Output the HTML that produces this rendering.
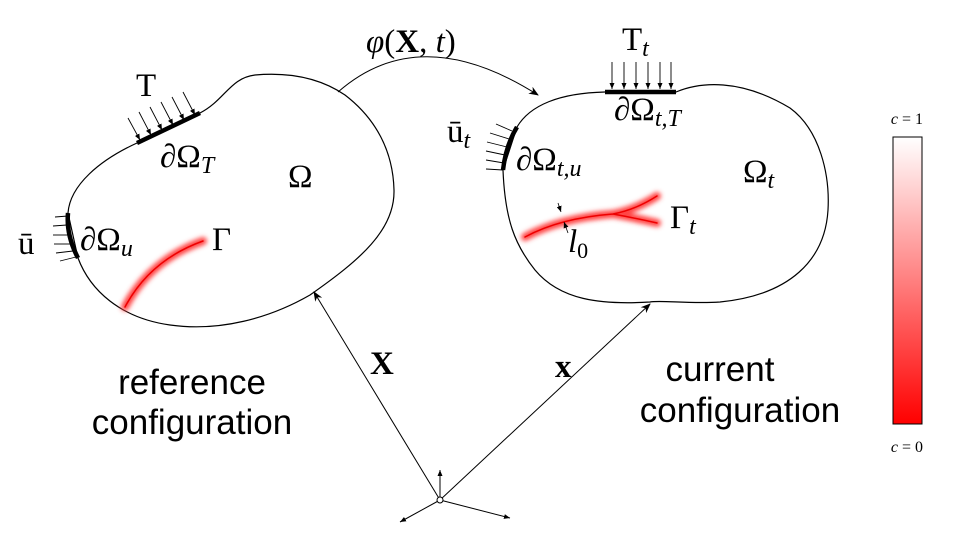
<html><body style="margin:0;background:#fff">
<svg width="980" height="549" viewBox="0 0 980 549" xmlns="http://www.w3.org/2000/svg" style="font-family:'Liberation Serif',serif">
<defs>
<marker id="a" markerWidth="10" markerHeight="8" refX="9" refY="4" orient="auto" markerUnits="userSpaceOnUse"><path d="M0,0 L10,4 L0,8 L3,4z" fill="#000"/></marker>
<marker id="s" markerWidth="6" markerHeight="5" refX="6" refY="2.5" orient="auto" markerUnits="userSpaceOnUse"><path d="M0,0 L6,2.5 L0,5z" fill="#000"/></marker>
<filter id="g" x="-20%" y="-50%" width="140%" height="200%"><feGaussianBlur stdDeviation="2.5"/></filter>
<linearGradient id="cb" x1="0" y1="0" x2="0" y2="1"><stop offset="0" stop-color="#fff"/><stop offset="1" stop-color="#f00"/></linearGradient>
</defs>
<g fill="none" stroke="#000" stroke-width="1.2">
<path d="M137,143 L200,113 C225,100 230,78 255,75 C290,72 320,78 345,95 C375,118 393,150 394,190 C395,230 360,260 310,295 C270,318 220,332 170,325 C120,318 90,290 78,258 L68,213 C70,185 100,160 137,143Z"/>
<path d="M605,92 L676,92 C700,82 740,78 790,108 C820,130 830,175 828,210 C825,260 790,295 720,302 C690,304 660,300 650,302 C600,305 560,300 535,270 C515,245 505,220 503,170 L517,127 C530,105 560,93 605,92Z"/>
</g>
<g stroke="#000" stroke-width="4.5" fill="none"><path d="M137,143 L200,113"/><path d="M78,258 Q66,235 68,213"/><path d="M605,92 L676,92"/><path d="M503,170 Q506,145 517,127"/></g>
<g stroke="#000" stroke-width="0.9" marker-end="url(#s)">
<line x1="128" y1="118" x2="140" y2="140"/><line x1="139" y1="112" x2="151" y2="135"/><line x1="150" y1="107" x2="162" y2="130"/><line x1="161" y1="102" x2="173" y2="125"/><line x1="172" y1="97" x2="184" y2="120"/><line x1="183" y1="92" x2="195" y2="115"/>
<line x1="612" y1="62" x2="612" y2="89"/><line x1="624" y1="62" x2="624" y2="89"/><line x1="636" y1="62" x2="636" y2="89"/><line x1="648" y1="62" x2="648" y2="89"/><line x1="660" y1="62" x2="660" y2="89"/><line x1="671" y1="62" x2="671" y2="89"/>
</g>
<g stroke="#000" stroke-width="0.9">
<line x1="55" y1="217" x2="68" y2="216"/><line x1="53" y1="226" x2="67" y2="225"/><line x1="53" y1="235" x2="68" y2="235"/><line x1="54" y1="244" x2="70" y2="244"/><line x1="56" y1="253" x2="73" y2="251"/><line x1="60" y1="261" x2="76" y2="257"/>
<line x1="496" y1="124" x2="512" y2="131"/><line x1="490" y1="133" x2="509" y2="139"/><line x1="487" y1="142" x2="507" y2="147"/><line x1="486" y1="151" x2="505" y2="155"/><line x1="486" y1="160" x2="504" y2="163"/><line x1="486" y1="169" x2="503" y2="170"/>
</g>
<g fill="none" stroke-linecap="round">
<path d="M125,307 Q150,260 203,241" stroke="#f44" stroke-width="8" filter="url(#g)"/>
<path d="M125,307 Q150,260 203,241" stroke="#e00" stroke-width="1.5"/>
<path d="M525,237 Q560,218 613,214 M613,214 Q635,210 657,196 M613,214 Q635,218 657,223" stroke="#f44" stroke-width="8" filter="url(#g)"/>
<path d="M525,237 Q560,218 613,214 M613,214 Q635,210 657,196 M613,214 Q635,218 657,223" stroke="#e00" stroke-width="1.5"/>
</g>
<g stroke="#000" stroke-width="0.8" fill="none"><line x1="558" y1="203" x2="561" y2="212" marker-end="url(#s)"/><line x1="568" y1="233" x2="564" y2="222" marker-end="url(#s)"/></g>
<g stroke="#000" stroke-width="1" fill="none">
<path d="M338,92 Q420,20 538,95" marker-end="url(#a)"/>
<line x1="440" y1="500" x2="314" y2="292" marker-end="url(#a)"/>
<line x1="440" y1="500" x2="650" y2="304" marker-end="url(#a)"/>
<line x1="440" y1="500" x2="440" y2="470" marker-end="url(#s)"/>
<line x1="440" y1="500" x2="400" y2="522" marker-end="url(#s)"/>
<line x1="440" y1="500" x2="510" y2="518" marker-end="url(#s)"/>
<circle cx="440" cy="500" r="3" fill="#fff"/>
</g>
<g font-size="33" fill="#000">
<text x="136" y="96">T</text><text x="160" y="167">∂Ω<tspan font-size="24" font-style="italic" dy="6">T</tspan></text>
<text x="288" y="187">Ω</text>
<text x="18" y="254">ū</text><text x="80" y="250">∂Ω<tspan font-size="24" font-style="italic" dy="6">u</tspan></text>
<text x="212" y="250">Γ</text>
<text x="366" y="52"><tspan font-style="italic">φ</tspan>(<tspan font-weight="bold">X</tspan>, <tspan font-style="italic">t</tspan>)</text>
<text x="622" y="50">T<tspan font-size="24" font-style="italic" dy="6">t</tspan></text>
<text x="614" y="120">∂Ω<tspan font-size="24" font-style="italic" dy="6">t,T</tspan></text>
<text x="447" y="142">ū<tspan font-size="24" font-style="italic" dy="6">t</tspan></text>
<text x="516" y="170">∂Ω<tspan font-size="24" font-style="italic" dy="6">t,u</tspan></text>
<text x="743" y="182">Ω<tspan font-size="24" font-style="italic" dy="6">t</tspan></text>
<text x="670" y="228">Γ<tspan font-size="24" font-style="italic" dy="6">t</tspan></text>
<text x="568" y="252" font-style="italic">l<tspan font-size="22" font-style="normal" dy="6">0</tspan></text>
<text x="370" y="374" font-weight="bold">X</text><text x="555" y="377" font-weight="bold">x</text>
</g>
<g font-family="Liberation Sans,sans-serif" font-size="35" fill="#000" text-anchor="middle">
<text x="192" y="394">reference</text><text x="192" y="434">configuration</text>
<text x="720" y="381">current</text><text x="740" y="422">configuration</text>
</g>
<rect x="893" y="137" width="29" height="287" fill="url(#cb)" stroke="#000" stroke-width="1"/>
<text x="907" y="124" font-size="16" text-anchor="middle"><tspan font-style="italic">c</tspan> = 1</text>
<text x="907" y="452" font-size="16" text-anchor="middle"><tspan font-style="italic">c</tspan> = 0</text>
</svg>
</body></html>
